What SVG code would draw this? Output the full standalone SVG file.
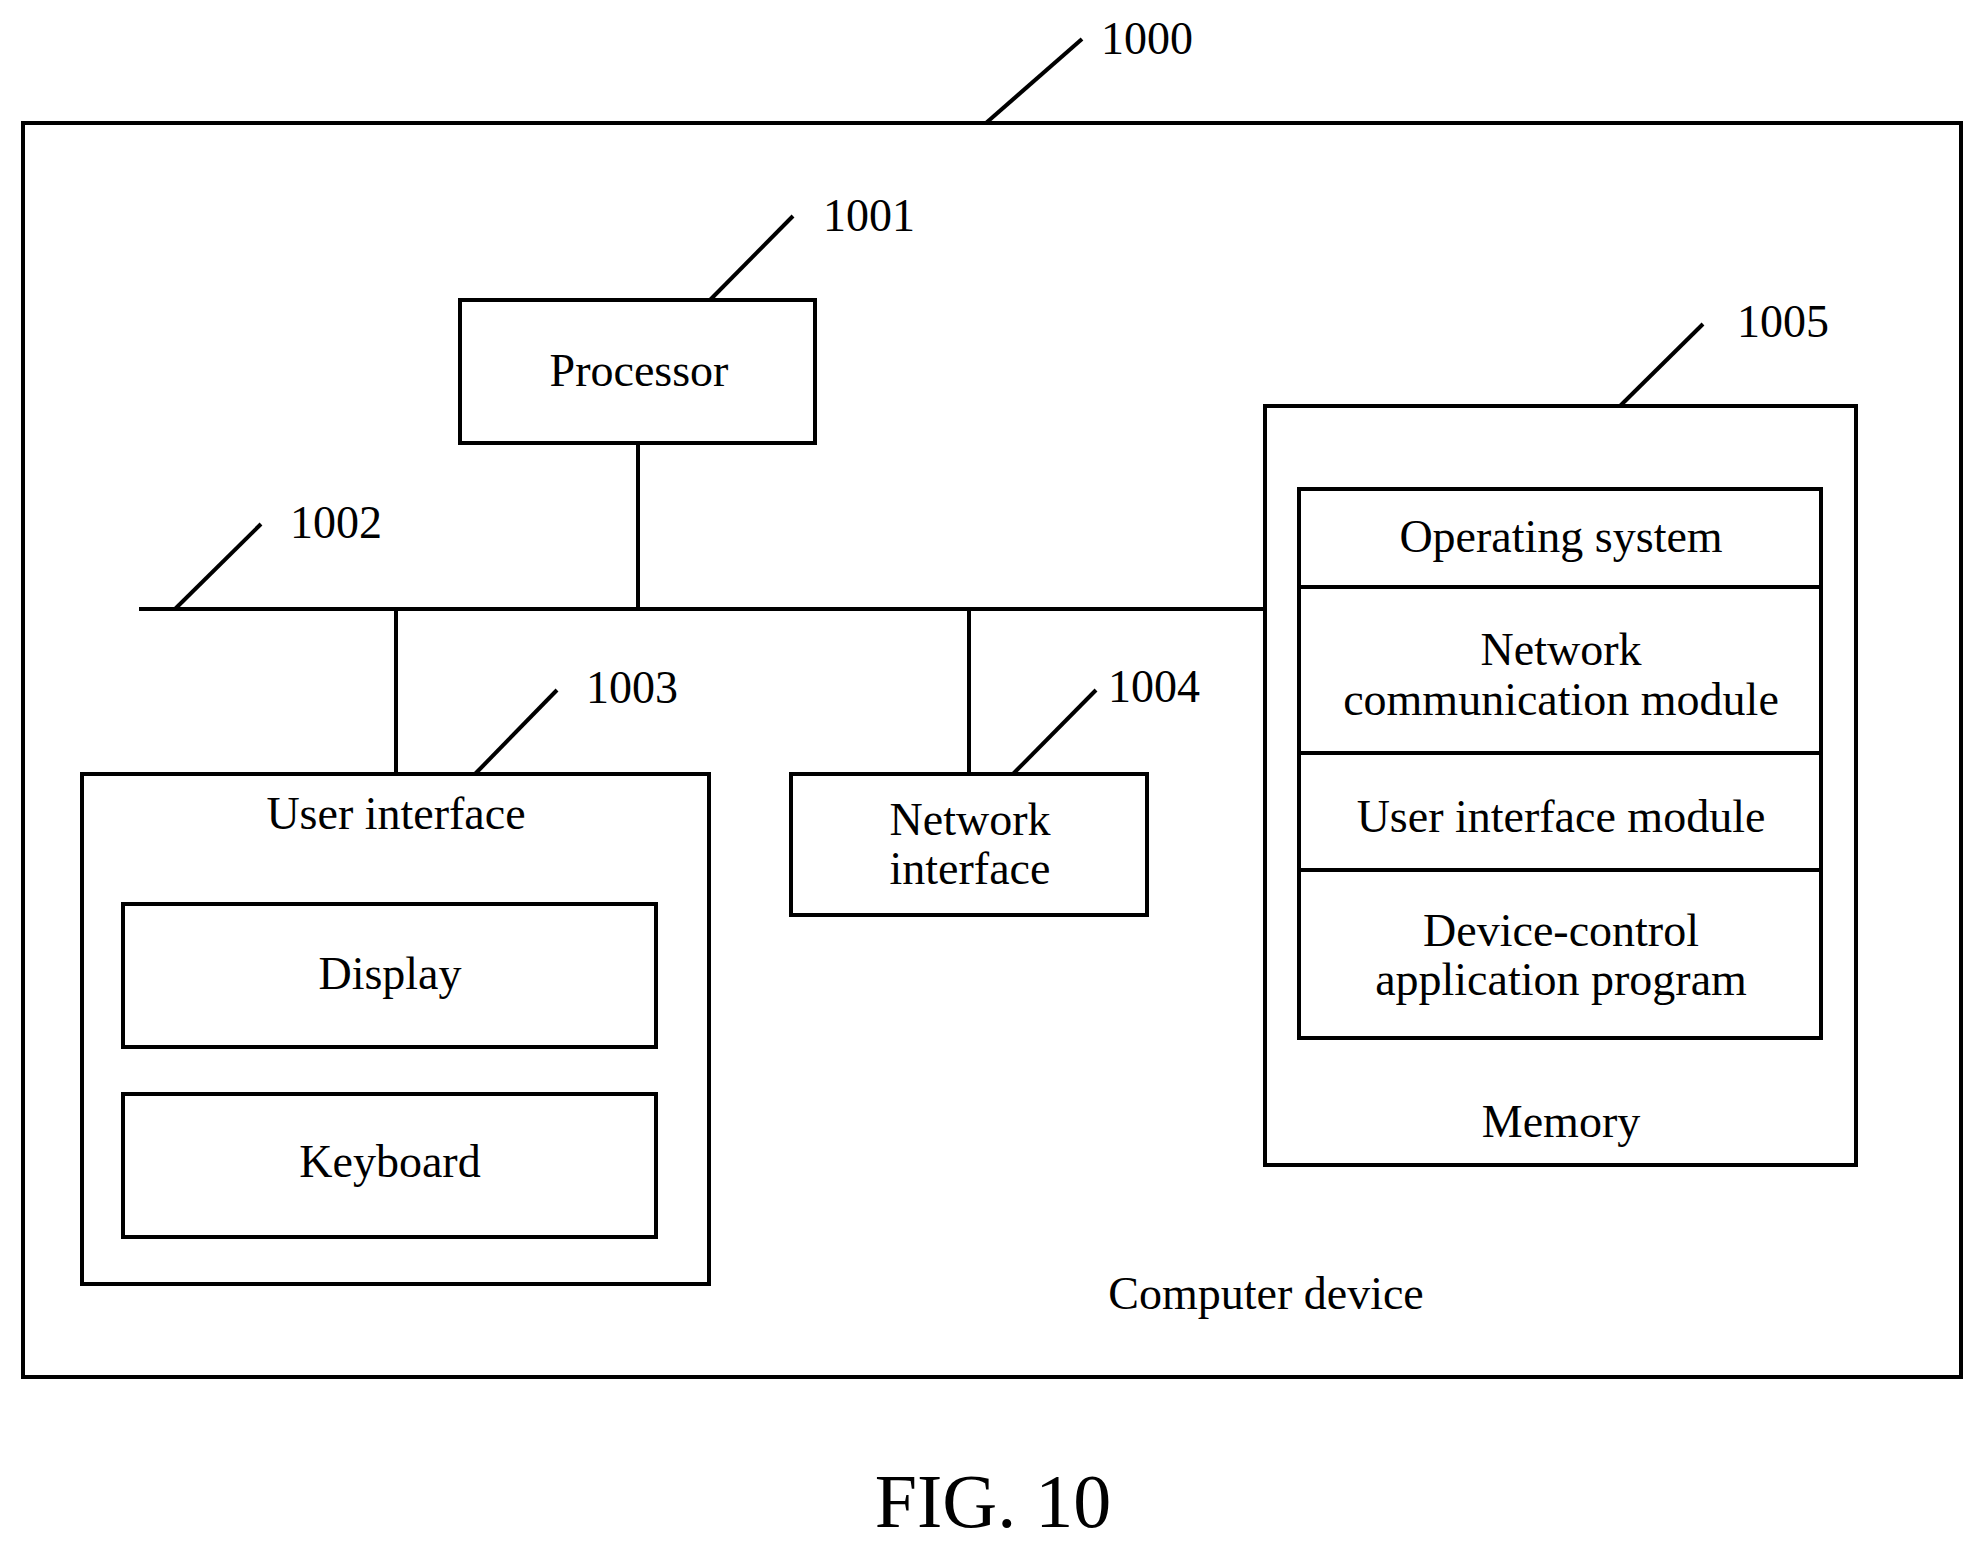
<svg xmlns="http://www.w3.org/2000/svg" width="1983" height="1547" viewBox="0 0 1983 1547">
<style>
rect{fill:none;stroke:#000;stroke-width:4}
line{stroke:#000;stroke-width:4}
text{font-family:"Liberation Serif",serif;font-size:46px;fill:#000;text-anchor:middle}
.n{text-anchor:start}
</style>
<rect x="0" y="0" width="1983" height="1547" style="fill:#fff;stroke:none"/>
<g id="device"><rect x="23" y="123" width="1938" height="1254"/><text x="1266" y="1309">Computer device</text></g>
<g id="connectors">
<line x1="986" y1="123" x2="1082" y2="39"/>
<line x1="710" y1="300" x2="793" y2="216"/>
<line x1="139" y1="609" x2="1265" y2="609"/>
<line x1="638" y1="443" x2="638" y2="609"/>
<line x1="175" y1="609" x2="261" y2="524"/>
<line x1="396" y1="609" x2="396" y2="774"/>
<line x1="475" y1="774" x2="557" y2="690"/>
<line x1="969" y1="609" x2="969" y2="774"/>
<line x1="1013" y1="774" x2="1096" y2="690"/>
<line x1="1620" y1="406" x2="1703" y2="324"/>
</g>
<g id="labels">
<text class="n" x="1101" y="54">1000</text>
<text class="n" x="823" y="231">1001</text>
<text class="n" x="290" y="538">1002</text>
<text class="n" x="586" y="703">1003</text>
<text class="n" x="1108" y="702">1004</text>
<text class="n" x="1737" y="337">1005</text>
</g>
<g id="processor"><rect x="460" y="300" width="355" height="143"/><text x="639" y="386">Processor</text></g>
<g id="ui"><rect x="82" y="774" width="627" height="510"/><text x="396" y="829">User interface</text></g>
<g id="display"><rect x="123" y="904" width="533" height="143"/><text x="390" y="989">Display</text></g>
<g id="keyboard"><rect x="123" y="1094" width="533" height="143"/><text x="390" y="1177">Keyboard</text></g>
<g id="netif"><rect x="791" y="774" width="356" height="141"/><text x="970" y="835">Network</text><text x="970" y="884">interface</text></g>
<g id="memory"><rect x="1265" y="406" width="591" height="759"/><text x="1561" y="1137">Memory</text>
<rect x="1299" y="489" width="522" height="549"/>
<line x1="1299" y1="587" x2="1821" y2="587"/>
<line x1="1299" y1="753" x2="1821" y2="753"/>
<line x1="1299" y1="870" x2="1821" y2="870"/>
<text x="1561" y="552">Operating system</text>
<text x="1561" y="665">Network</text><text x="1561" y="715">communication module</text>
<text x="1561" y="832">User interface module</text>
<text x="1561" y="946">Device-control</text><text x="1561" y="995">application program</text>
</g>
<text x="993" y="1527" style="font-size:76px">FIG. 10</text>
</svg>
